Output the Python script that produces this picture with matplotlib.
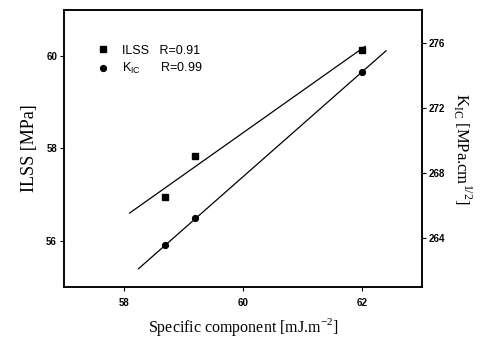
import numpy as np
import matplotlib.pyplot as plt

# specific component of surface energy [mJ/m2]
x_pts = [58.7, 59.2, 62.0]
ilss = [56.95, 57.84, 60.13]       # ILSS [MPa]
kic = [263.55, 265.2, 274.2]       # K_IC [MPa.cm^1/2]

# x-range over which each fit line is drawn
ilss_fit_range = [58.1, 62.05]
kic_fit_range = [58.25, 62.4]

ilss_R = 0.91
kic_R = 0.99

serif = ['Liberation Serif', 'DejaVu Serif']
sans = ['Liberation Sans', 'DejaVu Sans']

fig = plt.figure(figsize=(4.81, 3.42), dpi=100)
ax = fig.add_axes([0.133, 0.161, 0.744, 0.810])
ax2 = ax.twinx()

# ILSS on left axis
p = np.polyfit(x_pts, ilss, 1)
xf = np.array(ilss_fit_range)
ax.plot(xf, np.polyval(p, xf), color='black', lw=0.9)
h1, = ax.plot(x_pts, ilss, 's', color='black', ms=4.2, ls='none')

# K_IC on right axis
p2 = np.polyfit(x_pts, kic, 1)
xf2 = np.array(kic_fit_range)
ax2.plot(xf2, np.polyval(p2, xf2), color='black', lw=0.9)
h2, = ax2.plot(x_pts, kic, 'o', color='black', ms=4.2, ls='none')

ax.set_xlim(57, 63)
ax.set_ylim(55, 61)
ax2.set_ylim(261, 278)
ax.set_xticks([58, 60, 62])
ax.set_yticks([56, 58, 60])
ax2.set_yticks([264, 268, 272, 276])

for a in (ax, ax2):
    a.tick_params(direction='out', length=3, width=0.8, labelsize=7, pad=2)
    for lab in a.get_xticklabels() + a.get_yticklabels():
        lab.set_family(sans)
        lab.set_fontweight('bold')
    for s in a.spines.values():
        s.set_linewidth(1.1)
ax.tick_params(axis='x', pad=5)

ax.set_xlabel('Specific component [mJ.m$^{\\mathregular{-2}}$]', family=serif, fontsize=11.5, labelpad=6)
ax.set_ylabel('ILSS [MPa]', family=serif, fontsize=13, labelpad=6)
ax2.set_ylabel('K$_{\\mathregular{IC}}$ [MPa.cm$^{\\mathregular{1/2}}$]', family=serif, fontsize=12,
               rotation=270, labelpad=20)

leg = ax.legend([h1, h2], ['ILSS   R=%.2f' % ilss_R, 'K$_{\\mathregular{IC}}$      R=%.2f' % kic_R],
                loc='upper left', bbox_to_anchor=(0.06, 0.915), frameon=False,
                prop={'family': sans, 'size': 9}, handletextpad=1.0, labelspacing=0.35,
                handlelength=1.0)

fig.savefig('out.png', dpi=100)
